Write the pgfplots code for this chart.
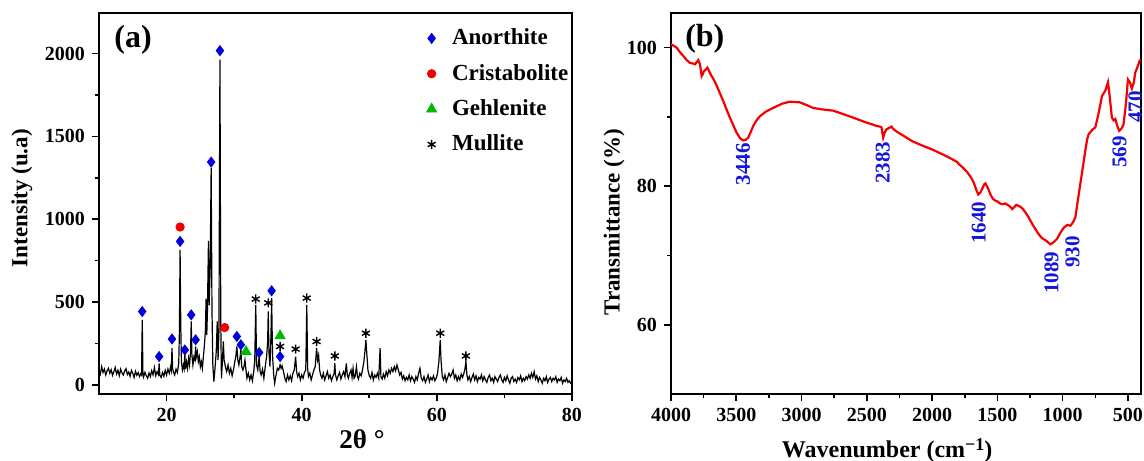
\documentclass[border=0pt]{standalone}
\usepackage{pgfplots}
\pgfplotsset{compat=1.18}
\usepackage{fontspec}
\setmainfont{Liberation Serif}
\definecolor{annblue}{RGB}{20,20,225}
\definecolor{mkblue}{RGB}{0,0,220}
\definecolor{mkred}{RGB}{240,0,0}
\definecolor{mkgreen}{RGB}{0,185,0}
\definecolor{ftred}{RGB}{245,0,0}
\begin{document}
\begin{tikzpicture}
\useasboundingbox (0,0) rectangle (572pt,230pt);
\pgfplotsset{
  every axis/.append style={
    scale only axis,
    anchor=south west,
    height=190.5pt,
    axis line style={line width=0.8pt},
    every tick/.style={line width=0.8pt,black},
    major tick length=3.5pt,
    minor tick length=2pt,
    tick align=outside,
    xtick pos=bottom, ytick pos=left,
    /pgf/number format/assume math mode=true,
    /pgf/number format/1000 sep={},
    tick label style={font=\fontsize{10}{12}\selectfont\bfseries},
    label style={font=\fontsize{11.5}{13}\selectfont\bfseries},
  }
}
% ---------- (a) XRD ----------
\begin{axis}[
  at={(49.5pt,33pt)}, width=236.5pt,
  xmin=10, xmax=80, ymin=-55, ymax=2245,
  xtick={20,40,60,80}, minor x tick num=1,
  ytick={0,500,1000,1500,2000}, minor y tick num=1,
  xlabel={2θ °},
  xlabel style={at={(axis description cs:0.556,0)}, anchor=base, yshift=-27pt, font=\fontsize{13.5}{15}\selectfont\bfseries},
  ylabel={Intensity (u.a)},
  ylabel style={at={(axis description cs:-0.163,0.514)}, anchor=center},
  legend style={at={(rel axis cs:0.672,0.975)}, anchor=north west, draw=none, fill=none,
    font=\fontsize{11.5}{13}\selectfont\bfseries, row sep=6.2pt, nodes={inner sep=1pt}},
  legend cell align=left,
  legend image code/.code={\path (0pt,0pt) (13pt,0pt); \draw[#1] plot coordinates {(4pt,0pt)};},
]
\addplot[black, line width=0.6pt, forget plot] table {
10.0 90
10.2 65
10.4 110
10.6 75
10.8 95
11.0 60
11.2 85
11.4 100
11.6 70
11.8 92
12.0 58
12.2 80
12.4 105
12.6 66
12.8 88
13.0 55
13.2 95
13.4 72
13.6 60
13.8 84
14.0 98
14.2 62
14.4 78
14.6 52
14.8 88
15.0 70
15.2 45
15.4 82
15.6 58
15.8 74
16.0 50
16.2 68
16.3 60
16.4 393
16.5 70
16.6 48
16.8 76
17.0 55
17.2 40
17.4 72
17.6 50
17.8 86
18.0 60
18.2 105
18.4 55
18.6 80
18.8 62
18.9 130
19.0 58
19.2 45
19.4 75
19.6 52
19.8 88
20.0 60
20.2 95
20.4 70
20.6 110
20.7 90
20.8 222
20.9 100
21.0 80
21.2 60
21.4 95
21.6 75
21.8 130
21.9 320
22.0 815
22.1 360
22.2 140
22.35 90
22.5 120
22.6 100
22.7 190
22.8 95
22.95 140
23.1 100
23.25 160
23.4 120
23.55 200
23.65 383
23.75 180
23.9 120
24.05 170
24.2 150
24.3 232
24.4 170
24.55 200
24.7 140
24.85 170
25.0 110
25.15 140
25.3 100
25.45 170
25.6 240
25.75 330
25.85 520
25.95 300
26.05 450
26.2 870
26.3 480
26.45 700
26.6 1310
26.72 450
26.85 120
27.0 20
27.15 90
27.35 200
27.5 383
27.62 150
27.75 320
27.9 1964
28.02 380
28.12 40
28.25 130
28.4 262
28.52 150
28.7 110
28.9 80
29.1 120
29.3 70
29.5 100
29.7 55
29.9 90
30.1 140
30.25 170
30.4 232
30.55 150
30.7 120
30.85 160
31.0 210
31.12 110
31.3 90
31.45 110
31.6 150
31.75 90
31.9 40
32.1 70
32.3 30
32.5 60
32.7 25
32.9 80
33.05 150
33.2 483
33.32 120
33.5 90
33.7 171
33.85 80
34.0 60
34.2 95
34.4 40
34.6 110
34.8 170
34.95 250
35.05 443
35.15 200
35.3 110
35.45 300
35.55 524
35.68 180
35.85 60
36.0 10
36.2 60
36.4 100
36.6 90
36.8 121
36.95 100
37.1 115
37.3 80
37.5 40
37.7 20
37.9 60
38.1 30
38.3 55
38.5 25
38.7 70
38.9 90
39.1 171
39.25 80
39.4 50
39.6 70
39.8 30
40.0 60
40.2 40
40.4 75
40.6 90
40.75 483
40.88 100
41.0 50
41.2 70
41.4 30
41.6 60
41.8 90
42.0 110
42.2 222
42.35 150
42.5 180
42.65 90
42.8 60
43.0 40
43.2 70
43.4 30
43.6 55
43.8 80
44.0 40
44.2 60
44.4 25
44.6 50
44.8 70
44.9 131
45.0 60
45.2 30
45.4 55
45.6 75
45.8 35
46.0 60
46.2 80
46.4 50
46.6 130
46.75 60
46.9 40
47.1 70
47.3 90
47.45 45
47.6 100
47.75 40
47.9 50
48.1 110
48.25 50
48.4 35
48.6 70
48.8 55
49.0 90
49.2 140
49.35 200
49.5 272
49.65 180
49.8 90
50.0 55
50.2 40
50.4 75
50.6 30
50.8 60
51.0 45
51.2 70
51.4 40
51.6 222
51.72 50
51.9 35
52.1 65
52.3 40
52.5 80
52.7 55
52.9 90
53.1 70
53.3 100
53.5 80
53.7 110
53.9 85
54.1 120
54.3 90
54.5 60
54.7 75
54.9 35
55.1 55
55.3 25
55.5 45
55.7 30
55.9 60
56.1 25
56.3 50
56.5 35
56.7 15
56.9 50
57.1 30
57.3 70
57.5 100
57.7 40
57.9 25
58.1 50
58.3 15
58.5 35
58.7 60
58.9 20
59.1 45
59.3 30
59.5 55
59.7 25
59.9 40
60.1 70
60.3 140
60.5 272
60.62 150
60.8 50
61.0 30
61.2 60
61.4 20
61.6 45
61.8 70
62.0 50
62.2 65
62.4 90
62.6 40
62.8 60
63.0 25
63.2 50
63.4 30
63.6 65
63.8 45
64.0 70
64.15 95
64.3 141
64.45 60
64.6 30
64.8 50
65.0 20
65.2 45
65.4 65
65.6 30
65.8 55
66.0 20
66.2 45
66.4 35
66.6 60
66.8 25
67.0 50
67.2 30
67.4 15
67.6 45
67.8 60
68.0 25
68.2 40
68.4 15
68.6 50
68.8 35
69.0 20
69.2 45
69.4 60
69.6 30
69.8 15
70.0 45
70.2 25
70.4 55
70.6 30
70.8 10
71.0 40
71.2 50
71.4 20
71.6 35
71.8 15
72.0 45
72.2 30
72.4 55
72.6 20
72.8 40
73.0 25
73.2 50
73.4 35
73.6 60
73.8 40
74.0 70
74.2 45
74.4 80
74.6 35
74.8 55
75.0 20
75.2 45
75.4 30
75.6 10
75.8 40
76.0 25
76.2 50
76.4 15
76.6 35
76.8 45
77.0 20
77.2 40
77.4 30
77.6 50
77.8 15
78.0 35
78.2 25
78.4 45
78.6 10
78.8 30
79.0 20
79.2 40
79.4 15
79.6 25
79.8 10
80.0 20
};
\addplot[only marks, mark=diamond*, mark size=2.5pt, mark options={draw=mkblue, fill=mkblue}] coordinates {
(16.4,443) (18.9,171) (20.8,277) (22.0,866) (22.7,211) (23.65,423) (24.3,272)
(26.6,1345) (27.9,2018) (30.4,292) (31.0,242) (33.7,195) (35.55,568) (36.8,171)
};
\addlegendentry{Anorthite}
\addplot[only marks, mark=*, mark size=2.1pt, mark options={draw=mkred, fill=mkred}] coordinates {
(22.0,953) (28.6,346)
};
\addlegendentry{Cristabolite}
\addplot[only marks, mark=triangle*, mark size=2.9pt, mark options={draw=mkgreen, fill=mkgreen}] coordinates {
(31.75,201) (36.8,296)
};
\addlegendentry{Gehlenite}
\addplot[only marks, mark=asterisk, mark size=2.3pt, mark options={draw=black, line width=0.7pt}] coordinates {
(33.2,518) (35.05,495) (36.8,232) (39.1,216) (40.75,524) (42.2,262) (44.9,175)
(49.5,312) (60.5,312) (64.3,175)
};
\addlegendentry{Mullite}
\node[font=\fontsize{16}{18}\selectfont\bfseries] at (rel axis cs:0.072,0.929) {(a)};
\end{axis}
% ---------- (b) FTIR ----------
\begin{axis}[
  at={(335.5pt,33pt)}, width=235pt,
  x dir=reverse,
  xmin=400, xmax=4000, ymin=50, ymax=105,
  xtick={500,1000,1500,2000,2500,3000,3500,4000}, minor x tick num=1,
  ytick={60,80,100}, minor y tick num=1,
  xlabel={Wavenumber (cm\raisebox{0.55ex}{\fontsize{9}{10}\selectfont −1})},
  xlabel style={at={(axis description cs:0.46,0)}, anchor=base, yshift=-31.5pt, font=\fontsize{12}{14}\selectfont\bfseries},
  ylabel={Transmittance (\%)},
  ylabel style={at={(axis description cs:-0.121,0.451)}, anchor=center},
]
\addplot[ftred, line width=1.1pt] table {
4000 100.5
3956 100.0
3930 99.3
3906 98.8
3880 98.2
3855 97.8
3830 97.7
3816 97.6
3800 98.0
3791 98.2
3778 97.6
3765 95.9
3756 96.2
3748 96.6
3735 96.8
3722 97.1
3705 96.5
3689 95.9
3670 95.3
3650 94.5
3625 93.4
3600 92.3
3575 91.1
3549 89.9
3523 88.8
3497 87.7
3470 86.9
3447 86.6
3428 86.7
3409 87.0
3390 87.8
3370 88.7
3345 89.5
3319 90.1
3270 90.8
3217 91.3
3150 91.9
3090 92.2
3013 92.1
2960 91.7
2911 91.3
2850 91.1
2758 90.9
2680 90.4
2605 89.9
2520 89.3
2426 88.7
2400 88.6
2388 88.5
2375 87.0
2362 87.8
2350 88.2
2330 88.4
2311 88.6
2300 88.3
2273 87.9
2230 87.4
2153 86.5
2080 85.9
2000 85.3
1920 84.6
1847 83.9
1810 83.5
1796 83.2
1760 82.6
1730 82.0
1700 81.2
1681 80.5
1660 79.4
1646 78.8
1630 79.1
1617 79.6
1600 80.3
1592 80.4
1575 79.8
1553 78.8
1535 78.2
1515 77.9
1500 77.8
1480 77.5
1464 77.4
1440 77.5
1413 77.2
1400 77.0
1386 76.7
1370 77.0
1355 77.3
1330 77.1
1309 76.8
1285 76.2
1260 75.5
1235 74.6
1209 73.8
1185 73.1
1158 72.5
1125 72.1
1094 71.6
1070 71.9
1043 72.4
1020 73.2
992 74.0
965 74.4
941 74.3
920 74.8
903 75.5
885 77.8
865 80.3
845 82.8
827 85.1
812 86.8
801 87.5
775 88.1
750 88.5
725 90.5
699 93.0
673 93.8
653 95.0
640 93.0
623 89.9
610 89.5
597 89.7
580 88.6
567 88.0
550 88.3
534 88.9
515 92.0
500 95.4
485 95.0
470 94.1
455 95.0
444 96.4
425 97.3
411 98.1
400 98.3
};
\node[font=\fontsize{16}{18}\selectfont\bfseries] at (rel axis cs:0.072,0.932) {(b)};
\begin{scope}[every node/.style={rotate=90, text=annblue, font=\fontsize{10.5}{12}\selectfont\bfseries, inner sep=0pt}]
\node at (axis cs:3449,83.2) {3446};
\node at (axis cs:2378,83.4) {2383};
\node at (axis cs:1643,74.7) {1640};
\node at (axis cs:1085,67.5) {1089};
\node at (axis cs:924,70.5) {930};
\node at (axis cs:565,84.9) {569};
\node at (axis cs:442,91.4) {470};
\end{scope}
\end{axis}
\end{tikzpicture}
\end{document}
